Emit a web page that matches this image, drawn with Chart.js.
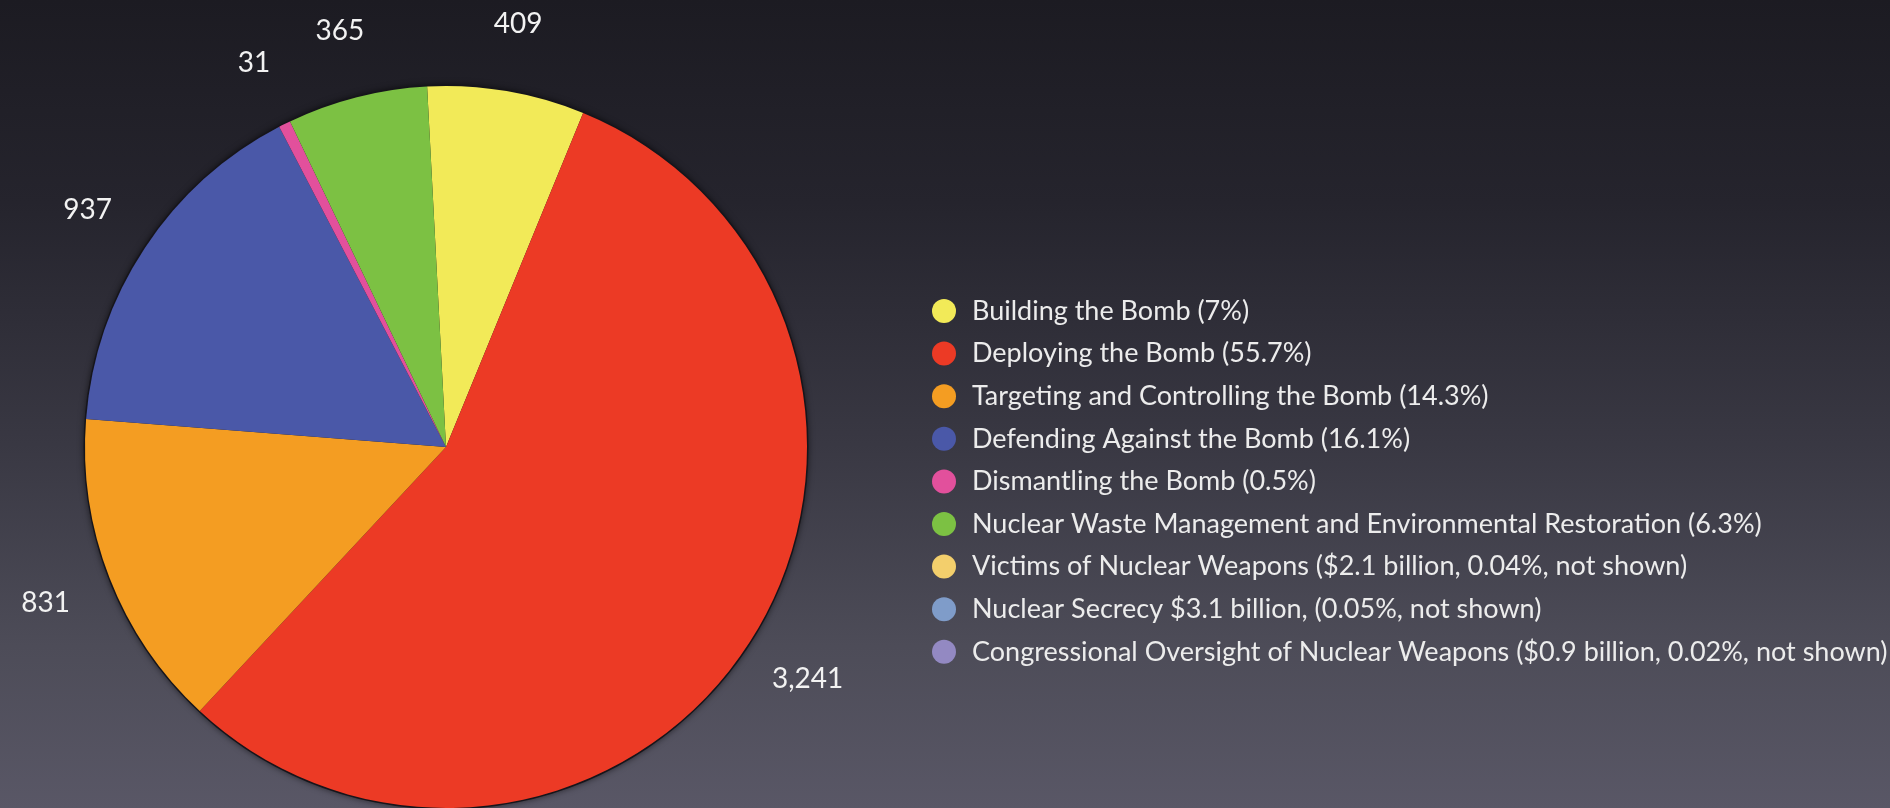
<!DOCTYPE html>
<html>
<head>
<meta charset="utf-8">
<script src="https://cdn.jsdelivr.net/npm/chart.js@4/dist/chart.umd.min.js"></script>
<style>
  html, body { margin: 0; padding: 0; background: #2a2a32; }
  #wrap {
    width: 1890px; height: 808px; position: relative; overflow: hidden;
    background: linear-gradient(to bottom, #1c1b22 0%, #25242d 25%, #393843 55%, #4d4c58 80%, #595766 100%);
  }
  canvas { display: block; }
</style>
</head>
<body>
<div id="wrap"><canvas id="c" width="1890" height="808"></canvas></div>
<script>
// Nuclear weapons spending by category (billions of dollars)
const categories = [
  'Building the Bomb',
  'Deploying the Bomb',
  'Targeting and Controlling the Bomb',
  'Defending Against the Bomb',
  'Dismantling the Bomb',
  'Nuclear Waste Management and Environmental Restoration'
];
const values = [409, 3241, 831, 937, 31, 365];
const valueLabels = ['409', '3,241', '831', '937', '31', '365'];
const sliceColors = ['#f2ea58', '#ec3a25', '#f49d22', '#4a58a8', '#e2509c', '#7cc143'];

// Legend entries, including the categories too small to draw
const legendLabels = [
  'Building the Bomb (7%)',
  'Deploying the Bomb (55.7%)',
  'Targeting and Controlling the Bomb (14.3%)',
  'Defending Against the Bomb (16.1%)',
  'Dismantling the Bomb (0.5%)',
  'Nuclear Waste Management and Environmental Restoration (6.3%)',
  'Victims of Nuclear Weapons ($2.1 billion, 0.04%, not shown)',
  'Nuclear Secrecy $3.1 billion, (0.05%, not shown)',
  'Congressional Oversight of Nuclear Weapons ($0.9 billion, 0.02%, not shown)'
];
const legendColors = ['#f2ea58', '#ec3a25', '#f49d22', '#4a58a8', '#e2509c', '#7cc143', '#f3cf6c', '#7f9cc9', '#9389c2'];

const FONT = 'Lato, "Open Sans", "DejaVu Sans", sans-serif';

// soft dark rim behind the pie
const pieShadow = {
  id: 'pieShadow',
  beforeDatasetsDraw(chart) {
    const arc = chart.getDatasetMeta(0).data[0];
    if (!arc) return;
    const { x, y, outerRadius } = arc.getProps(['x', 'y', 'outerRadius'], true);
    const ctx = chart.ctx;
    ctx.save();
    ctx.beginPath();
    ctx.arc(x, y, outerRadius + 1.5, 0, Math.PI * 2);
    ctx.fillStyle = '#16151b';
    ctx.shadowColor = 'rgba(0,0,0,0.55)';
    ctx.shadowBlur = 6;
    ctx.fill();
    ctx.restore();
  }
};

// value labels just outside each slice
const outerLabels = {
  id: 'outerLabels',
  afterDatasetsDraw(chart, args, opts) {
    const ctx = chart.ctx;
    const meta = chart.getDatasetMeta(0);
    ctx.save();
    ctx.font = opts.fontSize + 'px ' + FONT;
    ctx.fillStyle = opts.color;
    ctx.textAlign = 'center';
    ctx.textBaseline = 'middle';
    meta.data.forEach((arc, i) => {
      const p = arc.getProps(['x', 'y', 'startAngle', 'endAngle', 'outerRadius'], true);
      const mid = (p.startAngle + p.endAngle) / 2;
      const r = p.outerRadius * opts.offset;
      ctx.fillText(valueLabels[i], p.x + Math.cos(mid) * r, p.y + Math.sin(mid) * r);
    });
    ctx.restore();
  }
};

// legend column on the right
const sideLegend = {
  id: 'sideLegend',
  afterDraw(chart, args, opts) {
    const ctx = chart.ctx;
    ctx.save();
    ctx.font = opts.fontSize + 'px ' + FONT;
    ctx.textAlign = 'left';
    ctx.textBaseline = 'middle';
    legendLabels.forEach((txt, i) => {
      const y = opts.top + i * opts.step;
      ctx.beginPath();
      ctx.arc(opts.dotX, y, opts.dotR, 0, Math.PI * 2);
      ctx.fillStyle = legendColors[i];
      ctx.fill();
      ctx.fillStyle = opts.color;
      ctx.fillText(txt, opts.textX, y);
    });
    ctx.restore();
  }
};

new Chart(document.getElementById('c'), {
  type: 'pie',
  data: {
    labels: categories,
    datasets: [{
      data: values,
      backgroundColor: sliceColors,
      borderWidth: 0,
      hoverOffset: 0
    }]
  },
  options: {
    responsive: false,
    animation: false,
    rotation: -3,
    layout: { padding: { left: 85, top: 86, right: 1083, bottom: 0 } },
    plugins: {
      legend: { display: false },
      tooltip: { enabled: false },
      outerLabels: { fontSize: 28, color: '#f2f2f2', offset: 1.19 },
      sideLegend: { fontSize: 27, color: '#ececec', top: 311, step: 42.6, dotX: 944, dotR: 12, textX: 972 }
    }
  },
  plugins: [pieShadow, outerLabels, sideLegend]
});
</script>
</body>
</html>
